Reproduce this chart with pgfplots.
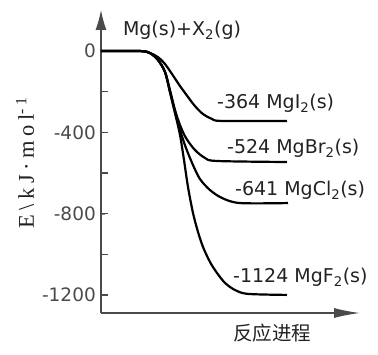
\documentclass[border=0pt]{standalone}
\usepackage{fontspec}
\usepackage{pgfplots}
\pgfplotsset{compat=1.18}
\usetikzlibrary{arrows.meta}
\setmainfont{DejaVu Sans}
\newfontfamily\cjk{Noto Sans CJK SC}
\newfontfamily\serifl[LetterSpace=20]{Liberation Serif}
\definecolor{axgray}{HTML}{4A4A4A}
\definecolor{txt}{HTML}{222222}
\begin{document}
\begin{tikzpicture}
\begin{axis}[
  scale only axis, width=259pt, height=303pt,
  xmin=0, xmax=259, ymin=-1289, ymax=202,
  axis x line=bottom, axis y line=left,
  x axis line style={axgray, line width=1.3pt, -{Latex[length=26pt,width=10pt]}},
  y axis line style={axgray, line width=1.3pt, -{Latex[length=20pt,width=11pt]}},
  xtick=\empty,
  ytick={0,-400,-800,-1200},
  tick align=inside,
  /pgf/number format/assume math mode=true,
  /pgf/number format/1000 sep={},
  yticklabel style={font=\fontsize{18.5}{18.5}\selectfont, text=axgray, inner sep=1pt, xshift=-4pt},
]
\addplot[black, line width=2.2pt, smooth, tension=0.5] coordinates {
(0,0)(39,0)(49,-10)(57,-30)(64,-64)(71,-113)(79,-172)(87,-226)(94,-271)(102,-310)(111,-334)(121,-344)(186,-344)};
\addplot[black, line width=2.2pt, smooth, tension=0.5] coordinates {
(0,0)(39,0)(49,-10)(57,-44)(64,-103)(69,-192)(74,-290)(79,-364)(85,-428)(94,-487)(104,-526)(116,-541)(186,-546)};
\addplot[black, line width=2.2pt, smooth, tension=0.5] coordinates {
(0,0)(39,0)(49,-10)(57,-44)(64,-103)(69,-202)(74,-300)(79,-389)(85,-477)(92,-561)(99,-630)(109,-684)(121,-723)(139,-748)(187,-748)};
\addplot[black, line width=2.2pt, smooth, tension=0.5] coordinates {
(0,0)(39,0)(49,-10)(57,-44)(64,-103)(69,-202)(74,-305)(79,-413)(83,-536)(87,-669)(92,-797)(97,-890)(102,-964)(109,-1038)(116,-1092)(124,-1141)(134,-1176)(147,-1195)(186,-1200)};
\end{axis}
% tick marks on the y axis (-200 ... -1200), placed with the axis scale 303pt/1491
\draw[axgray, line width=1.4pt] (0,221.3pt) -- ++(7pt,0);
\draw[axgray, line width=1.4pt] (0,180.7pt) -- ++(7pt,0);
\draw[axgray, line width=1.4pt] (0,140.0pt) -- ++(7pt,0);
\draw[axgray, line width=1.4pt] (0,99.4pt) -- ++(7pt,0);
\draw[axgray, line width=1.4pt] (0,58.7pt) -- ++(7pt,0);
\draw[axgray, line width=1.4pt] (0,18.1pt) -- ++(7pt,0);
\begin{scope}[every node/.style={inner sep=0pt, text=txt, font=\fontsize{19}{19}\selectfont}]
\node at (81pt,283pt) {Mg(s)+X\textsubscript{2}(g)};
\node[anchor=west] at (116pt,210pt) {-364 MgI\textsubscript{2}(s)};
\node[anchor=west] at (126pt,165pt) {-524 MgBr\textsubscript{2}(s)};
\node[anchor=west] at (134pt,123pt) {-641 MgCl\textsubscript{2}(s)};
\node[anchor=west] at (132pt,36pt) {-1124 MgF\textsubscript{2}(s)};
\node[font=\cjk\fontsize{19.5}{19.5}\selectfont] at (171pt,-20pt) {反应进程};
\node[rotate=90, font=\serifl\fontsize{22.5}{22.5}\selectfont] at (-76pt,150pt) {E\textbackslash kJ·mol\textsuperscript{-1}};
\end{scope}
\pgfresetboundingbox
\path (-101pt,-41pt) rectangle (277pt,313pt);
\end{tikzpicture}
\end{document}
